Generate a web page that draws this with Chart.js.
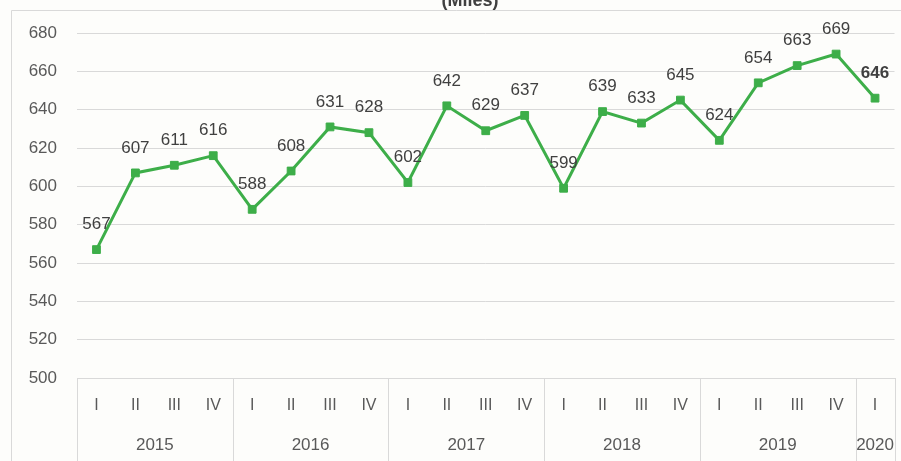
<!DOCTYPE html>
<html>
<head>
<meta charset="utf-8">
<script src="https://cdn.jsdelivr.net/npm/chart.js@4.4.1/dist/chart.umd.min.js"></script>
<style>
    html, body { margin: 0; padding: 0; background: #fdfdfb; }
    #wrap { position: relative; width: 901px; height: 461px; }
</style>
</head>
<body>
<div id="wrap"><canvas id="milesChart"></canvas></div>
<script>
const quarters = ["I", "II", "III", "IV", "I", "II", "III", "IV", "I", "II", "III", "IV",
    "I", "II", "III", "IV", "I", "II", "III", "IV", "I"];
const years = ["2015", "2016", "2017", "2018", "2019", "2020"];
const quartersPerYear = [4, 4, 4, 4, 4, 1];
const miles = [567, 607, 611, 616, 588, 608, 631, 628, 602, 642, 629, 637,
    599, 639, 633, 645, 624, 654, 663, 669, 646];
const yTicks = [500, 520, 540, 560, 580, 600, 620, 640, 660, 680];

const gridColor = "#d9d9d9";
const textColor = "#595959";
const lineColor = "#3dae49";

// frame, title, year row and separators, value labels
const extrasPlugin = {
    id: "extras",
    beforeDraw(chart) {
        const c = chart.ctx;
        c.save();
        c.fillStyle = "#fdfdfb";
        c.fillRect(0, 0, chart.width, chart.height);
        c.strokeStyle = gridColor;
        c.lineWidth = 1;
        c.beginPath();
        c.moveTo(11.5, chart.height);
        c.lineTo(11.5, 10.5);
        c.lineTo(chart.width, 10.5);
        c.stroke();

        c.fillStyle = "#404040";
        c.font = "bold 18px 'Liberation Sans'";
        c.textAlign = "center";
        c.textBaseline = "alphabetic";
        c.fillText("(Miles)", 470, 6);
        c.restore();
    },
    afterDraw(chart) {
        const c = chart.ctx;
        const x = chart.scales.x;
        const top = chart.chartArea.bottom;
        c.save();
        c.strokeStyle = gridColor;
        c.lineWidth = 1;

        // year separators
        let start = 0;
        let bounds = [-0.5];
        for (let n of quartersPerYear) {
            start += n;
            bounds.push(start - 0.5);
        }
        c.beginPath();
        for (let b of bounds) {
            let px = Math.round(x.getPixelForValue(b)) + 0.5;
            c.moveTo(px, top);
            c.lineTo(px, chart.height);
        }
        c.stroke();

        // year labels
        c.fillStyle = textColor;
        c.font = "17px 'Liberation Sans'";
        c.textAlign = "center";
        c.textBaseline = "middle";
        start = 0;
        years.forEach((yr, i) => {
            let first = x.getPixelForValue(start);
            let last = x.getPixelForValue(start + quartersPerYear[i] - 1);
            let cx = (first + last) / 2;
            if (i == years.length - 1) cx = Math.min(cx, chart.width - 20);
            c.fillText(yr, cx, 445);
            start += quartersPerYear[i];
        });

        // value labels (last one looks bold in the source)
        const meta = chart.getDatasetMeta(0);
        c.fillStyle = "#404040";
        meta.data.forEach((pt, i) => {
            c.font = (i == miles.length - 1 ? "bold " : "") + "17px 'Liberation Sans'";
            c.fillText(miles[i], pt.x, pt.y - 25);
        });
        c.restore();
    }
};

const ctx = document.getElementById("milesChart").getContext("2d");

new Chart(ctx, {
    type: "line",
    data: {
        labels: quarters,
        datasets: [{
            data: miles,
            borderColor: lineColor,
            backgroundColor: lineColor,
            borderWidth: 3,
            pointStyle: "rect",
            pointRadius: 5.5,
            pointBorderWidth: 1,
            tension: 0
        }]
    },
    options: {
        responsive: true,
        maintainAspectRatio: false,
        animation: false,
        layout: {
            padding: { top: 33, left: 12, right: 6, bottom: 0 }
        },
        scales: {
            x: {
                offset: true,
                grid: { display: false, drawTicks: false },
                border: { display: true, color: gridColor },
                ticks: {
                    color: textColor,
                    font: { family: "Liberation Sans", size: 16 },
                    padding: 18,
                    autoSkip: false,
                    maxRotation: 0
                },
                afterFit(scale) { scale.height = 83; }
            },
            y: {
                min: 500,
                max: 680,
                afterBuildTicks(scale) {
                    scale.ticks = yTicks.map(v => ({ value: v }));
                },
                grid: { color: gridColor, drawTicks: false },
                border: { display: false },
                ticks: {
                    color: textColor,
                    font: { family: "Liberation Sans", size: 17 },
                    padding: 20
                },
                afterFit(scale) { scale.width = 65; }
            }
        },
        plugins: {
            legend: { display: false },
            tooltip: { enabled: false }
        }
    },
    plugins: [extrasPlugin]
});
</script>
</body>
</html>
